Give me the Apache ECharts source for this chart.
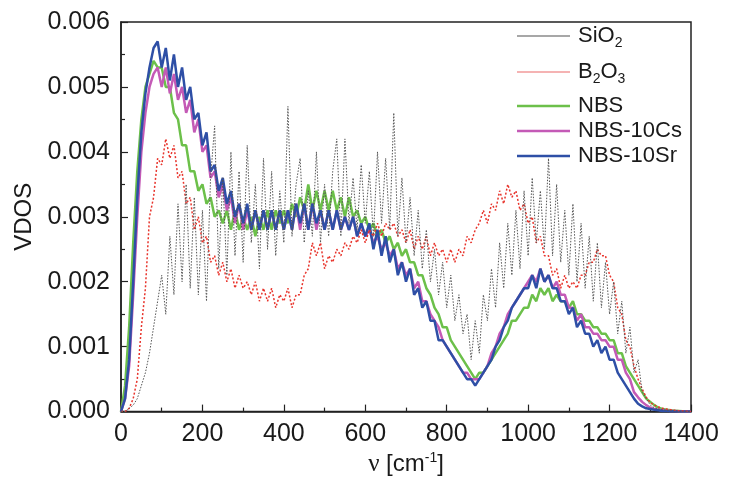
<!DOCTYPE html>
<html>
<head>
<meta charset="utf-8">
<script src="https://cdn.jsdelivr.net/npm/echarts@6/dist/echarts.min.js"></script>
<style>
html,body{margin:0;padding:0;background:#fff;}
#chart{width:735px;height:482px;}
</style>
</head>
<body>
<div id="chart"></div>
<script>
// wavenumber grid, cm^-1 (step 10)
const wavenumbers = Array.from({length: 141}, (_, i) => i * 10);

// VDOS values in units of 1e-4, one per wavenumber
const sio2 = [
  0,0,0.5,1,2,4,6,9,13,17,
  21,15,27,18,32,20,35,19,33,18,
  31,17,36,44,22,36,21,40,24,37,
  23,41,26,35,22,39,25,37,24,34,
  26,47,27,35,39,26,34,27,40,26,
  35,27,37,42,27,42,29,36,28,38,
  29,37,27,40,29,39,28,46,27,36,
  26,33,24,31,22,28,20,25,18,23,
  16,21,14,18,12,15,8,14,9,18,
  14,22,16,26,19,29,21,31,22,34,
  24,36,26,34,25,39,24,35,23,31,
  21,32,20,29,19,27,17,26,16,23,
  15,20,12,17,9,13,6,8,3,2,
  1,0.6,0.4,0.3,0.2,0.15,0.1,0.05,0.03,0.02,
  0
];
const b2o3 = [
  0,0,0.5,2,5,13,19,30,33,39,
  38,42,39,41,36,37,32,33,28,30,
  26,27,23,24,21,23,20,22,19,21,
  19,20,18,20,17,19,17,19,16,18,
  17,19,16,18,18,21,22,26,24,26,
  22,24,23,25,24,26,25,27,26,28,
  26,28,27,29,27,29,28,29,27,28,
  26,28,25,27,25,27,24,26,24,25,
  23,25,23,25,24,27,26,28,29,31,
  29,32,31,34,32,35,33,34,31,32,
  29,30,26,27,24,24,21,22,19,21,
  19,20,19,21,21,23,23,25,24,24,
  21,20,16,15,11,10,7,5,3.5,2.2,
  1.4,1,0.7,0.5,0.4,0.3,0.2,0.15,0.1,0.05,
  0
];
const nbs = [
  0,4,13,26,37,45,50,52,54,53,
  53,50,50,46,45,41,41,37,37,34,
  35,32,33,30,31,29,31,28,31,28,
  30,28,30,27,30,28,31,28,31,29,
  31,29,32,30,33,31,35,31,34,31,
  34,31,34,31,33,30,33,30,31,29,
  30,28,29,27,28,26,27,25,26,24,
  25,23,23,21,21,19,18,16,15,13,
  13,11,10,9,8,7,6,5,6,6,
  7,8,9,10,11,12,14,14,15,16,
  16,18,17,19,18,19,17,18,17,17,
  16,17,15,15,14,14,13,13,12,12,
  11,11,9,9,7,6,5,4,3,2,
  1.5,1,0.6,0.4,0.3,0.2,0.15,0.1,0.05,0.03,
  0
];
const nbs10cs = [
  0,2,7,18,30,40,46,50,52,53,
  50,53,49,52,48,50,46,48,43,45,
  40,41,36,37,33,35,31,33,29,32,
  28,31,28,31,28,31,28,31,28,31,
  28,31,28,32,28,32,28,32,28,31,
  28,31,28,31,28,30,28,30,27,29,
  27,28,26,27,25,26,24,25,22,23,
  21,22,19,20,17,17,15,14,13,11,
  10,9,8,7,6,6,5,5,5,6,
  7,9,10,12,13,15,16,17,18,19,
  20,21,20,22,20,21,19,20,18,18,
  16,16,14,15,13,13,12,12,11,11,
  10,10,8,8,6,5,3,2.2,1.5,1,
  0.6,0.4,0.3,0.2,0.15,0.1,0.08,0.05,0.03,0.02,
  0
];
const nbs10sr = [
  0,2,8,20,33,43,49,53,56,57,
  53,56,51,55,50,53,48,50,45,46,
  41,43,37,38,34,36,32,34,30,32,
  29,32,28,31,28,31,28,31,28,31,
  28,31,28,32,29,32,28,32,29,31,
  28,31,28,31,28,30,28,30,27,29,
  27,29,25,28,24,27,23,25,21,23,
  20,22,18,19,16,17,14,14,11,11,
  10,9,8,7,6,5,5,4,5,6,
  7,8,10,11,13,14,16,17,18,19,
  19,21,19,22,20,21,19,19,17,17,
  15,16,13,14,12,12,10,11,9,10,
  8,8,6,5,4,3,2,1.2,0.8,0.5,
  0.4,0.3,0.2,0.1,0.1,0.05,0.05,0.03,0.02,0.01,
  0
];
const seriesNames = ['SiO2', 'B2O3', 'NBS', 'NBS-10Cs', 'NBS-10Sr'];
const xTicks = [0, 200, 400, 600, 800, 1000, 1200, 1400];
const yTicks = [0, 0.001, 0.002, 0.003, 0.004, 0.005, 0.006];

const SCALE = 1e-4;
const pairs = arr => wavenumbers.map((w, i) => [w, arr[i] * SCALE]);

const FONT = "'Liberation Sans', Arial, sans-serif";
const chart = echarts.init(document.getElementById('chart'), null, {renderer: 'canvas'});

const legendRich = {
  a: {fontSize: 22, fontFamily: FONT, color: '#1a1a1a', lineHeight: 26},
  s: {fontSize: 14, fontFamily: FONT, color: '#1a1a1a', padding: [14, 0, 0, 0]}
};
function legendFmt(name) {
  if (name === 'SiO2') return '{a|SiO}{s|2}';
  if (name === 'B2O3') return '{a|B}{s|2}{a|O}{s|3}';
  return '{a|' + name + '}';
}
const legendTops = [25, 61, 95, 120, 145];
const legendLineColors = ['#8a8a8a', '#f29a9a', '#6cc04a', '#c45ab6', '#2e4fa6'];
const legends = seriesNames.map((n, i) => ({
  data: [{name: n, icon: 'rect', itemStyle: {color: legendLineColors[i]}}],
  left: 517, top: legendTops[i], orient: 'vertical', padding: 0,
  itemWidth: 53, itemHeight: i < 2 ? 1.5 : 2.5,
  formatter: legendFmt,
  textStyle: {rich: legendRich, fontSize: 22, fontFamily: FONT, color: '#1a1a1a', padding: [0, 0, 0, 3]},
  selectedMode: false
}));

const option = {
  animation: false,
  backgroundColor: '#fff',
  grid: {left: 121, right: 44, top: 22, bottom: 58, show: true, borderColor: '#222', borderWidth: 1.5, backgroundColor: 'transparent'},
  legend: legends,
  xAxis: {
    type: 'value', min: 0, max: 1400, interval: 200,
    name: '{n|ν} [cm{p|-1}]', nameLocation: 'middle', nameGap: 38,
    nameTextStyle: {
      rich: {
        n: {fontSize: 25, fontFamily: "'Liberation Serif', 'Times New Roman', serif", color: '#1a1a1a'},
        p: {fontSize: 14, fontFamily: FONT, color: '#1a1a1a', padding: [0, 0, 12, 0]}
      },
      fontSize: 24, fontFamily: FONT, color: '#1a1a1a'
    },
    axisLine: {show: true, lineStyle: {color: '#222', width: 1.5}},
    axisTick: {show: true, inside: true, length: 7, lineStyle: {color: '#222', width: 1.2}},
    minorTick: {show: true, splitNumber: 2, length: 4, lineStyle: {color: '#222', width: 1.2}},
    splitLine: {show: false},
    axisLabel: {fontSize: 25, fontFamily: FONT, color: '#1a1a1a', margin: 10,
      formatter: v => xTicks.includes(v) ? String(v) : ''}
  },
  yAxis: {
    type: 'value', min: 0, max: 0.006, interval: 0.001,
    name: 'VDOS', nameLocation: 'middle', nameGap: 84, nameRotate: 90,
    nameTextStyle: {fontSize: 24, fontFamily: FONT, color: '#1a1a1a'},
    axisLine: {show: true, lineStyle: {color: '#222', width: 1.5}},
    axisTick: {show: true, inside: true, length: 7, lineStyle: {color: '#222', width: 1.2}},
    minorTick: {show: true, splitNumber: 2, length: 4, lineStyle: {color: '#222', width: 1.2}},
    splitLine: {show: false},
    axisLabel: {fontSize: 25, fontFamily: FONT, color: '#1a1a1a', margin: 11,
      formatter: v => {
        const t = yTicks.find(y => Math.abs(y - v) < 1e-9);
        return t === undefined ? '' : t.toFixed(3);
      }}
  },
  series: [
    {name: 'NBS', type: 'line', data: pairs(nbs), showSymbol: false, symbol: 'none', z: 2,
      lineStyle: {color: '#6cc04a', width: 2.5}, itemStyle: {color: '#6cc04a'}},
    {name: 'NBS-10Cs', type: 'line', data: pairs(nbs10cs), showSymbol: false, symbol: 'none', z: 3,
      lineStyle: {color: '#c45ab6', width: 2.5}, itemStyle: {color: '#c45ab6'}},
    {name: 'NBS-10Sr', type: 'line', data: pairs(nbs10sr), showSymbol: false, symbol: 'none', z: 4,
      lineStyle: {color: '#2e4fa6', width: 2.5}, itemStyle: {color: '#2e4fa6'}},
    {name: 'B2O3', type: 'line', data: pairs(b2o3), showSymbol: false, symbol: 'none', z: 5,
      lineStyle: {color: '#e8342c', width: 1.5, type: [2, 2]}, itemStyle: {color: '#e8342c'}},
    {name: 'SiO2', type: 'line', data: pairs(sio2), showSymbol: false, symbol: 'none', z: 6,
      lineStyle: {color: '#555', width: 1, type: [1.5, 1.5]}, itemStyle: {color: '#555'}}
  ]
};
chart.setOption(option);
</script>
</body>
</html>
